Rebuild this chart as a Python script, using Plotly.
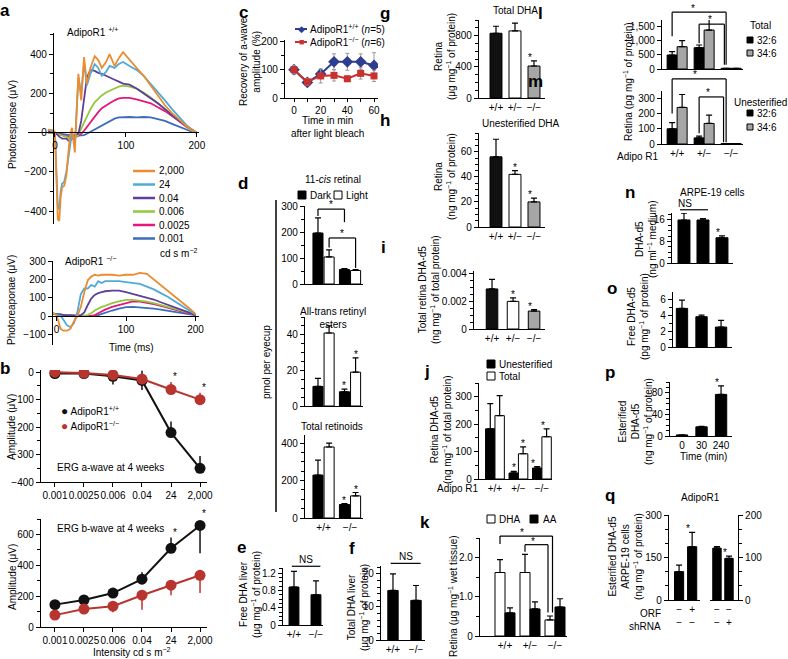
import plotly.graph_objects as go

W, H = 788, 659

# ---------------- data ----------------
# a: ERG photoresponse (uV) against time (ms), AdipoR1 +/+ and -/-
levels = ['2,000', '24', '0.04', '0.006', '0.0025', '0.001']
level_colors = ['#ED8B2F', '#4FAAD9', '#5E3F99', '#93C83E', '#E2187C', '#3D6CBA']

t_wt = [-10, -2, 0, 2, 4, 6, 8, 10, 13, 16, 19, 21, 24, 28, 33, 37, 41, 45, 50, 56,
        61, 66, 72, 77, 84, 90, 96, 105, 115, 125, 135, 145, 155, 165, 175, 185, 193, 200]
wt_2000 = [15, 12, 0, -250, -440, -450, -330, -280, -270, -220, -120, -20, 25, -100, 300, 165, 385, 250, 330, 390,
           370, 330, 360, 400, 340, 380, 410, 370, 330, 290, 240, 190, 140, 100, 65, 35, 15, 0]
wt_24 = [15, 10, 0, -200, -380, -390, -300, -260, -250, -200, -120, -60, 0, -60, 280, 200, 355, 240, 300, 350,
         330, 290, 310, 340, 330, 350, 360, 340, 320, 290, 250, 210, 165, 120, 80, 40, 15, 0]
wt_004 = [5, 3, 0, -5, -15, -20, -25, -30, -30, -30, -40, -40, -30, -10, -5, 60, 170, 280, 320, 315,
          305, 300, 290, 280, 270, 260, 250, 245, 225, 200, 175, 150, 120, 90, 60, 35, 15, 0]
wt_0006 = [0, 0, -2, -5, -8, -10, -12, -15, -18, -20, -25, -30, -30, -25, -10, 20, 50, 80, 120, 155,
           175, 190, 205, 215, 225, 235, 240, 235, 225, 205, 180, 150, 120, 90, 60, 30, 10, 0]
wt_00025 = [0, 0, -2, -4, -6, -8, -10, -12, -15, -18, -20, -22, -25, -25, -15, -5, 10, 30, 55, 85,
            105, 125, 140, 150, 165, 175, 178, 178, 170, 160, 150, 130, 110, 85, 60, 30, 12, 0]
wt_0001 = [0, 0, -2, -3, -4, -5, -6, -8, -10, -12, -14, -15, -16, -16, -15, -15, -12, -5, 5, 15,
           25, 35, 50, 60, 72, 78, 80, 80, 78, 80, 78, 70, 60, 45, 30, 15, 5, 0]

t_ko = [-10, -5, 0, 3, 6, 10, 15, 20, 25, 30, 35, 40, 45, 50, 55, 60, 65, 70, 80, 90,
        100, 110, 120, 130, 140, 150, 160, 170, 180, 190, 200]
ko_2000 = [20, 15, 5, -40, -70, -80, -80, -70, -30, 0, 50, 130, 195, 215, 225, 220, 225, 225, 225, 220,
           225, 225, 235, 230, 200, 170, 140, 110, 80, 45, 12]
ko_24 = [20, 15, 10, 5, 0, -20, -50, -60, -40, 20, 120, 150, 150, 170, 160, 190, 180, 190, 190, 190,
         185, 180, 175, 160, 145, 125, 105, 80, 55, 30, 8]
ko_004 = [15, 12, 10, 8, 6, 5, 4, 3, 2, 0, 5, 20, 60, 95, 115, 125, 130, 135, 138, 138,
          130, 120, 112, 100, 90, 75, 62, 48, 35, 20, 5]
ko_0006 = [15, 12, 10, 8, 6, 5, 4, 3, 2, 0, 0, 0, 5, 15, 30, 40, 50, 55, 70, 80,
           88, 88, 85, 78, 70, 60, 50, 40, 30, 18, 5]
ko_00025 = [15, 12, 10, 8, 6, 5, 4, 3, 2, 0, 0, 0, 0, 0, 5, 15, 25, 35, 50, 60,
            72, 80, 78, 72, 65, 55, 45, 35, 25, 15, 5]
ko_0001 = [15, 12, 10, 8, 6, 5, 4, 3, 2, 0, 0, 0, 0, 0, 0, 5, 12, 20, 30, 40,
           48, 50, 48, 45, 40, 35, 28, 22, 15, 10, 5]

# b: ERG amplitudes (uV) at 4 weeks
b_int = ['0.001', '0.0025', '0.006', '0.04', '24', '2,000']
awave_wt = [-5, -5, -15, -30, -220, -350]
awave_wt_up = [0, 0, 0, 35, 40, 45]
awave_wt_dn = [0, 0, 30, 35, 0, 0]
awave_ko = [0, -3, -10, -25, -63, -100]
awave_ko_up = [0, 0, 0, 0, 27, 25]
bwave_wt = [145, 175, 220, 310, 510, 658]
bwave_wt_up = [0, 0, 33, 45, 70, 0]
bwave_wt_dn = [0, 0, 0, 0, 0, 180]
bwave_ko = [77, 116, 135, 206, 271, 335]
bwave_ko_dn = [0, 0, 40, 95, 65, 115]

# c: recovery of a-wave amplitude (%)
c_time = [0, 10, 20, 30, 40, 50, 60]
c_wt = [100, 55, 85, 128, 128, 128, 115]
c_wt_err = [15, 12, 15, 28, 30, 28, 45]
c_ko = [100, 57, 78, 80, 68, 87, 78]
c_ko_err = [15, 12, 25, 20, 10, 20, 20]

# d: retinoids (pmol per eyecup)
d_geno = ['+/+', '−/−']
cis_dark, cis_dark_err = [196, 56], [58, 3]
cis_light, cis_light_err = [104, 52], [27, 3]
est_dark, est_dark_err = [11, 8], [4.5, 1.5]
est_light, est_light_err = [41, 19], [4, 8]
ret_dark, ret_dark_err = [229, 72], [80, 5]
ret_light, ret_light_err = [379, 118], [21, 18]

# e, f: liver DHA
e_vals, e_err = [0.88, 0.70], [0.36, 0.32]
f_vals, f_err = [15, 12], [5, 4.5]

# g-k: retina
geno3 = ['+/+', '+/−', '−/−']
g_vals, g_err = [830, 860, 410], [90, 100, 65]
h_vals, h_err = [56, 42, 20], [14, 3, 3]
i_vals, i_err = [0.0029, 0.002, 0.0013], [0.0007, 0.00025, 0.0001]
j_unest, j_unest_err = [183, 22, 40], [92, 6, 5]
j_total, j_total_err = [231, 92, 154], [73, 25, 29]
k_dha, k_dha_err = [1.62, 1.62, 0.41], [0.33, 0.46, 0.1]
k_aa, k_aa_err = [0.59, 0.69, 0.74], [0.13, 0.18, 0.21]

# l, m: 32:6 and 34:6 species
l_326, l_326_err = [490, 745, 25], [115, 95, 0]
l_346, l_346_err = [780, 1364, 25], [210, 480, 0]
m_326, m_326_err = [100, 40, 3], [40, 12, 0]
m_346, m_346_err = [240, 135, 3], [85, 55, 0]

# n-p: ARPE-19 cells
n_groups = ['n1', 'n2', 'n3']
n_vals, n_err = [16, 16, 9.4], [2.5, 0.5, 0.7]
o_groups = ['o1', 'o2', 'o3']
o_vals, o_err = [4.84, 3.8, 2.5], [1.05, 0.2, 0.85]
p_time = ['0', '30', '240']
p_vals, p_err = [2, 17, 77], [0, 1, 16]

# q: AdipoR1 ORF / shRNA
orf = ['−', '+', '−', '−']
shrna = ['−', '−', '−', '+']
q_orf_vals, q_orf_err = [100, 188], [23, 51]
q_sh_vals, q_sh_err = [122, 98], [3.5, 5]

# ---------------- helpers ----------------
fig = go.Figure()
lay = {}
notes = []
shapes = []
info = {}
count = [0]

AX = dict(showline=True, linecolor='black', linewidth=1.2, ticks='outside', ticklen=4,
          tickwidth=1.1, tickcolor='black', showgrid=False, zeroline=False, automargin=False,
          tickfont=dict(size=10, color='black'), fixedrange=True)


def mnr(d):
    return dict(dtick=d, ticks='outside', ticklen=2.5, tickwidth=1, tickcolor='black', showgrid=False)


def axes(x0, x1, y0, y1, xk=None, yk=None):
    count[0] += 1
    s = '' if count[0] == 1 else str(count[0])
    xa = dict(AX, domain=[x0 / W, x1 / W], anchor='y' + s)
    ya = dict(AX, domain=[1 - y1 / H, 1 - y0 / H], anchor='x' + s)
    xa.update(xk or {})
    ya.update(yk or {})
    lay['xaxis' + s] = xa
    lay['yaxis' + s] = ya
    info['x' + s] = (x0, x1, xa.get('range'))
    info['y' + s] = (y0, y1, ya.get('range'))
    return 'x' + s, 'y' + s


def to_px(xa, ya, x, y):
    x0, x1, (a, b) = info[xa]
    y0, y1, (c, d) = info[ya]
    return x0 + (x - a) / (b - a) * (x1 - x0), y1 - (y - c) / (d - c) * (y1 - y0)


def cat(r, labels=True):
    return dict(type='category', range=r, ticks='', showticklabels=labels)


def text(s, x, y, size=10, angle=0, xanchor='center', color='black'):
    notes.append(dict(text=s, x=x / W, y=1 - y / H, xref='paper', yref='paper', showarrow=False,
                      textangle=angle, xanchor=xanchor, yanchor='middle',
                      font=dict(size=size, color=color)))


def letter(s, x, y):
    text('<b>%s</b>' % s, x, y, size=17)


def star(xa, ya, x, y, s='*', shift=-4):
    # significance mark just above a data value; placed on the page so it is never hidden
    px, py = to_px(xa, ya, x, y)
    notes.append(dict(text=s, x=px / W, y=1 - py / H, xref='paper', yref='paper', showarrow=False,
                      yanchor='bottom', yshift=shift, font=dict(size=10, color='black')))


def pline(px0, py0, px1, py1, color='black', width=1.2):
    shapes.append(dict(type='line', xref='paper', yref='paper', x0=px0 / W, y0=1 - py0 / H,
                       x1=px1 / W, y1=1 - py1 / H, line=dict(color=color, width=width)))


def seg(xa, ya, x0, y0, x1, y1):
    a = to_px(xa, ya, x0, y0)
    b = to_px(xa, ya, x1, y1)
    pline(a[0], a[1], b[0], b[1])


def bracket(xa, ya, xl, xr, top, yl, yr):
    seg(xa, ya, xl, yl, xl, top)
    seg(xa, ya, xl, top, xr, top)
    seg(xa, ya, xr, top, xr, yr)


def swatch(x0, y0, x1, y1, color):
    shapes.append(dict(type='rect', xref='paper', yref='paper', x0=x0 / W, x1=x1 / W,
                       y0=1 - y1 / H, y1=1 - y0 / H, fillcolor=color, line=dict(color='black', width=1)))


def bars(xa, ya, cats, vals, errs, color, width, offset):
    fig.add_trace(go.Bar(x=cats, y=vals, xaxis=xa, yaxis=ya, width=width, offset=offset,
                         marker=dict(color=color, line=dict(color='black', width=1)),
                         error_y=dict(type='data', array=errs, arrayminus=[0] * len(errs), symmetric=False,
                                      color='black', thickness=1.2, width=3),
                         showlegend=False, cliponaxis=False))


# ---------------- a ----------------
letter('a', 5, 11)
xa, ya = axes(28, 199, 33, 224,
              dict(range=[-38, 203], anchor='free', position=1 - 132 / H, tickvals=[0, 100, 200]),
              dict(range=[-465, 508], anchor='free', position=53 / W,
                   tickvals=[-400, -200, 0, 200, 400], minor=mnr(100)))
wt_curves = [wt_2000, wt_24, wt_004, wt_0006, wt_00025, wt_0001]
for lvl, col, ys in reversed(list(zip(levels, level_colors, wt_curves))):
    fig.add_trace(go.Scatter(x=t_wt, y=ys, xaxis=xa, yaxis=ya, mode='lines', name=lvl,
                             line=dict(color=col, width=1.8), showlegend=False))
text('AdipoR1 <sup>+/+</sup>', 65, 32, xanchor='left')
text('Photoresponse (μV)', 12, 125, angle=-90)
for k, (lvl, col) in enumerate(zip(levels, level_colors)):
    yy = 171 + 13.5 * k
    pline(133, yy, 155, yy, color=col, width=2.5)
    text(lvl, 157, yy, xanchor='left')
text('cd s m<sup>−2</sup>', 158, 253, xanchor='left')

xa, ya = axes(53, 199, 261, 345,
              dict(range=[-5, 205], anchor='free', position=1 - 316 / H, tickvals=[0, 100, 200]),
              dict(range=[-158, 300], tickvals=[-100, 0, 100, 200, 300]))
ko_curves = [ko_2000, ko_24, ko_004, ko_0006, ko_00025, ko_0001]
for lvl, col, ys in reversed(list(zip(levels, level_colors, ko_curves))):
    fig.add_trace(go.Scatter(x=t_ko, y=ys, xaxis=xa, yaxis=ya, mode='lines', name=lvl,
                             line=dict(color=col, width=1.8), showlegend=False))
text('AdipoR1 <sup>−/−</sup>', 63, 261, xanchor='left')
text('Photoreaponae (μV)', 12, 300, angle=-90)
text('Time (ms)', 131, 347)

# ---------------- b ----------------
letter('b', 5, 368)
BLACK, RED = '#111111', '#B8342F'
xa, ya = axes(41, 207, 370, 482, dict(type='category', range=[-0.48, 5.24], tickangle=0),
              dict(range=[-400, 8], tickvals=[-400, -300, -200, -100, 0], minor=mnr(50)))
fig.add_trace(go.Scatter(x=b_int, y=awave_wt, xaxis=xa, yaxis=ya, mode='lines+markers',
                         line=dict(color=BLACK, width=2), marker=dict(color=BLACK, size=11),
                         error_y=dict(type='data', array=awave_wt_up, arrayminus=awave_wt_dn, symmetric=False,
                                      color=BLACK, thickness=1.5, width=0), showlegend=False))
fig.add_trace(go.Scatter(x=b_int, y=awave_ko, xaxis=xa, yaxis=ya, mode='lines+markers',
                         line=dict(color=RED, width=2), marker=dict(color=RED, size=11),
                         error_y=dict(type='data', array=awave_ko_up, arrayminus=[0] * 6, symmetric=False,
                                      color=RED, thickness=1.5, width=0), showlegend=False))
for i in (4, 5):
    star(xa, ya, i, awave_ko[i] + awave_ko_up[i], shift=-2)
text('<span style="color:%s;font-size:12px">●</span> AdipoR1<sup>+/+</sup>' % BLACK, 59, 411, xanchor='left')
text('<span style="color:%s;font-size:12px">●</span> AdipoR1<sup>−/−</sup>' % RED, 59, 426, xanchor='left')
text('ERG a-wave at 4 weeks', 110, 467)
text('Amplitude (μV)', 12, 427, angle=-90)

xa, ya = axes(41, 207, 519, 627, dict(type='category', range=[-0.48, 5.24], tickangle=0),
              dict(range=[0, 700], tickvals=[0, 200, 400, 600], minor=mnr(100)))
fig.add_trace(go.Scatter(x=b_int, y=bwave_wt, xaxis=xa, yaxis=ya, mode='lines+markers',
                         line=dict(color=BLACK, width=2), marker=dict(color=BLACK, size=11),
                         error_y=dict(type='data', array=bwave_wt_up, arrayminus=bwave_wt_dn, symmetric=False,
                                      color=BLACK, thickness=1.5, width=0), showlegend=False))
fig.add_trace(go.Scatter(x=b_int, y=bwave_ko, xaxis=xa, yaxis=ya, mode='lines+markers',
                         line=dict(color=RED, width=2), marker=dict(color=RED, size=11),
                         error_y=dict(type='data', array=[0] * 6, arrayminus=bwave_ko_dn, symmetric=False,
                                      color=RED, thickness=1.5, width=0), showlegend=False))
star(xa, ya, 4, bwave_wt[4] + bwave_wt_up[4], shift=-2)
star(xa, ya, 5, bwave_wt[5], shift=4)
text('ERG b-wave at 4 weeks', 110, 528)
text('Amplitude (μV)', 12, 577, angle=-90)
text('Intensity cd s m<sup>−2</sup>', 132, 652)

# ---------------- c ----------------
letter('c', 243, 13)
NAVY, CRED = '#2E3D8F', '#C8312E'
xa, ya = axes(285, 378, 40, 98, dict(range=[-6.75, 63], tickvals=[0, 20, 40, 60], minor=mnr(10), ticklen=3),
              dict(range=[0, 205], tickvals=[0, 100, 200], minor=mnr(50)))
fig.add_trace(go.Scatter(x=c_time, y=c_wt, xaxis=xa, yaxis=ya, mode='lines+markers',
                         line=dict(color=NAVY, width=2), marker=dict(color=NAVY, size=9, symbol='diamond'),
                         error_y=dict(type='data', array=c_wt_err, color='#999999', thickness=1, width=2),
                         showlegend=False))
fig.add_trace(go.Scatter(x=c_time, y=c_ko, xaxis=xa, yaxis=ya, mode='lines+markers',
                         line=dict(color=CRED, width=2), marker=dict(color=CRED, size=7, symbol='square'),
                         error_y=dict(type='data', array=c_ko_err, color='#999999', thickness=1, width=2),
                         showlegend=False))
for yy, col, sym, lab in [(29, NAVY, '◆', 'AdipoR1<sup>+/+</sup> (<i>n</i>=5)'),
                          (42, CRED, '■', 'AdipoR1<sup>−/−</sup> (<i>n</i>=6)')]:
    pline(295, yy, 307, yy, color=col, width=2)
    text(sym, 301, yy, size=9, color=col)
    text(lab, 308, yy, xanchor='left')
text('Recovery of a-wave<br>amplitude (%)', 250, 62, angle=-90)
text('Time in min<br>after light bleach', 327, 127)

# ---------------- d ----------------
letter('d', 243, 183)
text('11-<i>cis</i> retinal', 333, 180)
swatch(298, 191, 306, 199, 'black')
text('Dark', 308, 195, xanchor='left')
swatch(334, 191, 342, 199, 'white')
text('Light', 344, 195, xanchor='left')
DW = 0.38
xa, ya = axes(305, 363, 206, 284, cat([-0.70, 1.49], False),
              dict(range=[0, 300], tickvals=[0, 100, 200, 300], minor=mnr(50)))
bars(xa, ya, d_geno, cis_dark, cis_dark_err, 'black', DW, -DW - 0.02)
bars(xa, ya, d_geno, cis_light, cis_light_err, 'white', DW, 0.02)
bracket(xa, ya, -0.21, 0.79, 288, 262, 238)
star(xa, ya, 0.29, 288, shift=-3)
bracket(xa, ya, 0.21, 1.21, 177, 140, 62)
star(xa, ya, 0.71, 177, shift=-3)

text('All-trans retinyl<br>esters', 333, 318)
xa, ya = axes(305, 363, 317, 406, cat([-0.70, 1.49], False),
              dict(range=[0, 50], tickvals=[0, 20, 40], minor=mnr(5)))
bars(xa, ya, d_geno, est_dark, est_dark_err, 'black', DW, -DW - 0.02)
bars(xa, ya, d_geno, est_light, est_light_err, 'white', DW, 0.02)
star(xa, ya, 0.79, est_dark[1] + est_dark_err[1])
star(xa, ya, 1.21, est_light[1] + est_light_err[1])

text('Total retinoids', 332, 427)
xa, ya = axes(305, 363, 435, 518, cat([-0.70, 1.49]),
              dict(range=[0, 443], tickvals=[0, 200, 400], minor=mnr(50)))
bars(xa, ya, d_geno, ret_dark, ret_dark_err, 'black', DW, -DW - 0.02)
bars(xa, ya, d_geno, ret_light, ret_light_err, 'white', DW, 0.02)
star(xa, ya, 0.79, ret_dark[1] + ret_dark_err[1])
star(xa, ya, 1.21, ret_light[1] + ret_light_err[1])
pline(276, 200, 276, 512, width=1.5)
text('pmol per eyecup', 267, 362, angle=-90)

# ---------------- e, f ----------------
letter('e', 242, 547)
xa, ya = axes(283, 323, 568, 625, cat([-0.5, 1.32]),
              dict(range=[0, 1.32], tickvals=[0, 0.4, 0.8, 1.2], ticktext=['0', '0.4', '0.8', '1.2'],
                   minor=mnr(0.1)))
bars(xa, ya, d_geno, e_vals, e_err, 'black', 0.45, -0.225)
seg(xa, ya, -0.1, 1.36, 1.2, 1.36)
star(xa, ya, 0.55, 1.36, 'NS', shift=-1)
text('Free DHA liver<br>(μg mg<sup>−1</sup> of protein)', 250, 595, angle=-90)

letter('f', 352, 548)
xa, ya = axes(381, 425, 566, 640, cat([-0.52, 1.39]),
              dict(range=[0, 22.4], tickvals=[0, 10, 20], minor=mnr(2)))
bars(xa, ya, d_geno, f_vals, f_err, 'black', 0.45, -0.225)
seg(xa, ya, -0.1, 23.2, 1.2, 23.2)
star(xa, ya, 0.55, 23.2, 'NS', shift=-1)
text('Total DHA liver<br>(μg mg<sup>−1</sup> of protein)', 358, 608, angle=-90)

# ---------------- g, h, i ----------------
COLS3 = ['#111111', 'white', '#A6A6A6']
letter('g', 385, 14)
text('Total DHA', 515, 11)
xa, ya = axes(479, 545, 20, 98, cat([-0.895, 2.58]),
              dict(range=[0, 1000], tickvals=[0, 400, 800], minor=mnr(100)))
bars(xa, ya, geno3, g_vals, g_err, COLS3, 0.63, -0.315)
star(xa, ya, 2, g_vals[2] + g_err[2])
text('Retina<br>(μg mg<sup>−1</sup> of protein)', 445, 57, angle=-90)

letter('h', 385, 120)
text('Unesterified DHA', 521, 123)
xa, ya = axes(479, 545, 133, 227, cat([-0.895, 2.58]),
              dict(range=[0, 75], tickvals=[0, 20, 40, 60], minor=mnr(5)))
bars(xa, ya, geno3, h_vals, h_err, COLS3, 0.63, -0.315)
for i in (1, 2):
    star(xa, ya, i, h_vals[i] + h_err[i])
text('Retina<br>(ng mg<sup>−1</sup> of protein)', 445, 177, angle=-90)

letter('i', 383, 247)
xa, ya = axes(474, 545, 271, 329, cat([-0.857, 2.52]),
              dict(range=[0, 0.0042], tickvals=[0, 0.002, 0.004], ticktext=['0', '0.002', '0.004'],
                   minor=mnr(0.0005)))
bars(xa, ya, geno3, i_vals, i_err, COLS3, 0.55, -0.275)
for i in (1, 2):
    star(xa, ya, i, i_vals[i] + i_err[i])
text('Total retina DHA-d5<br>(ng mg<sup>−1</sup> of total protein)', 429, 290, angle=-90)

# ---------------- j ----------------
letter('j', 427, 371)
swatch(487, 360, 495, 368, 'black')
text('Unesterified', 497, 364, xanchor='left')
swatch(487, 372, 495, 380, 'white')
text('Total', 497, 376, xanchor='left')
xa, ya = axes(479, 552, 383, 479, cat([-0.68, 2.43]),
              dict(range=[0, 350], tickvals=[0, 100, 200, 300], minor=mnr(50)))
bars(xa, ya, geno3, j_unest, j_unest_err, 'black', 0.40, -0.40)
bars(xa, ya, geno3, j_total, j_total_err, 'white', 0.40, 0.0)
for i in (1, 2):
    star(xa, ya, i - 0.2, j_unest[i] + j_unest_err[i])
    star(xa, ya, i + 0.2, j_total[i] + j_total_err[i])
text('Retina DHA-d5<br>(ng mg<sup>−1</sup> of total protein)', 441, 430, angle=-90)
text('Adipo R1', 458, 489)

# ---------------- k ----------------
letter('k', 425, 522)
swatch(487, 515, 495, 523, 'white')
text('DHA', 497, 519, xanchor='left')
swatch(530, 515, 538, 523, 'black')
text('AA', 541, 519, xanchor='left')
xa, ya = axes(480, 567, 538, 636, cat([-1.0, 2.48]),
              dict(range=[0, 2.5], tickvals=[0, 1, 2], ticktext=['0', '1.0', '2.0'], minor=mnr(0.5)))
bars(xa, ya, geno3, k_dha, k_dha_err, 'white', 0.40, -0.40)
bars(xa, ya, geno3, k_aa, k_aa_err, 'black', 0.40, 0.0)
bracket(xa, ya, -0.2, 1.9, 2.55, 2.35, 0.6)
star(xa, ya, 0.85, 2.55, shift=-4)
bracket(xa, ya, 0.8, 1.72, 2.33, 2.15, 0.6)
star(xa, ya, 1.26, 2.33, shift=-4)
text('Retina (μg mg<sup>−1</sup> wet tissue)', 453, 596, angle=-90)

# ---------------- l, m ----------------
GREY = '#A6A6A6'
letter('l', 540, 14)
xa, ya = axes(662, 743, 20, 69, cat([-0.56, 2.44], False),
              dict(range=[0, 1715], tickvals=[0, 500, 1000, 1500], tickformat=','))
bars(xa, ya, geno3, l_326, l_326_err, 'black', 0.37, -0.37)
bars(xa, ya, geno3, l_346, l_346_err, GREY, 0.37, 0.0)
bracket(xa, ya, -0.185, 1.815, 1990, 1150, 150)
star(xa, ya, 0.75, 1990, shift=-4)
bracket(xa, ya, 0.815, 1.75, 1570, 900, 150)
star(xa, ya, 1.35, 1570, shift=-3)
text('Total', 760, 26)
swatch(747, 37, 753, 43, 'black')
text('32:6', 755, 40, xanchor='left')
swatch(747, 50, 753, 56, GREY)
text('34:6', 755, 53, xanchor='left')

letter('m', 535, 82)
xa, ya = axes(662, 743, 91, 144, cat([-0.56, 2.44]),
              dict(range=[0, 348], tickvals=[0, 100, 200, 300]))
bars(xa, ya, geno3, m_326, m_326_err, 'black', 0.37, -0.37)
bars(xa, ya, geno3, m_346, m_346_err, GREY, 0.37, 0.0)
bracket(xa, ya, -0.185, 1.815, 427, 200, 12)
star(xa, ya, 0.8, 427, shift=-3)
bracket(xa, ya, 0.815, 1.72, 309, 70, 12)
star(xa, ya, 1.3, 309, shift=-3)
text('Unesterified', 760, 102)
swatch(747, 110, 753, 116, 'black')
text('32:6', 755, 113, xanchor='left')
swatch(747, 124, 753, 130, GREY)
text('34:6', 755, 127, xanchor='left')
text('Retina (pg mg<sup>−1</sup> of protein)', 628, 82, angle=-90)
text('Adipo R1', 638, 157)

# ---------------- n, o, p ----------------
letter('n', 630, 192)
text('ARPE-19 cells', 712, 192)
xa, ya = axes(672, 733, 213, 263, cat([-0.63, 2.58], False),
              dict(range=[0, 18.6], tickvals=[0, 8, 16], minor=mnr(2)))
bars(xa, ya, n_groups, n_vals, n_err, 'black', 0.63, -0.315)
star(xa, ya, 2, n_vals[2] + n_err[2])
seg(xa, ya, -0.21, 19.8, 1.26, 19.8)
star(xa, ya, 0.52, 19.8, 'NS', shift=-1)
text('DHA-d5<br>(ng ml<sup>−1</sup> medium)', 646, 240, angle=-90)

letter('o', 612, 288)
xa, ya = axes(673, 732, 292, 347, cat([-0.46, 2.56], False),
              dict(range=[0, 6.9], tickvals=[0, 2, 4, 6], minor=mnr(1)))
bars(xa, ya, o_groups, o_vals, o_err, 'black', 0.58, -0.29)
text('Free DHA-d5<br>(pg mg<sup>−1</sup> of protein)', 638, 317, angle=-90)

letter('p', 610, 372)
xa, ya = axes(670, 732, 382, 436, cat([-0.615, 2.56]),
              dict(range=[0, 100], tickvals=[0, 40, 80], minor=mnr(10)))
bars(xa, ya, p_time, p_vals, p_err, 'black', 0.58, -0.29)
star(xa, ya, 2, p_vals[2] + p_err[2])
text('Time (min)', 703, 456)
text('Esterified<br>DHA-d5<br>(ng mg<sup>−1</sup> of protein)', 636, 422, angle=-90)

# ---------------- q ----------------
letter('q', 610, 495)
text('AdipoR1', 700, 497)
q_ticks = ['%s<br>%s' % (o, s) for o, s in zip(orf, shrna)]
q_cats = ['c%d' % k for k in range(4)]
xa, ya = axes(669, 700, 515, 600, dict(cat([-0.77, 1.6]), tickvals=q_cats[:2], ticktext=q_ticks[:2]),
              dict(range=[0, 300], tickvals=[0, 150, 300], minor=mnr(50)))
bars(xa, ya, q_cats[:2], q_orf_vals, q_orf_err, 'black', 0.7, -0.35)
star(xa, ya, 1, q_orf_vals[1] + q_orf_err[1])
xa, ya = axes(710, 738, 515, 600, dict(cat([-0.58, 1.75]), tickvals=q_cats[2:], ticktext=q_ticks[2:]),
              dict(range=[0, 200], side='right', tickvals=[0, 100, 200], minor=mnr(200 / 6)))
bars(xa, ya, q_cats[2:], q_sh_vals, q_sh_err, 'black', 0.7, -0.35)
star(xa, ya, 1, q_sh_vals[1] + q_sh_err[1])
text('ORF', 663, 613, xanchor='right')
text('shRNA', 663, 626, xanchor='right')
text('Esterified DHA-d5<br>ARPE-19 cells<br>(ng mg<sup>−1</sup> of protein)', 625, 557, angle=-90)

fig.update_layout(width=W, height=H, margin=dict(l=0, r=0, t=0, b=0, autoexpand=False),
                  paper_bgcolor='white', plot_bgcolor='rgba(0,0,0,0)',
                  font=dict(family='Liberation Sans, Arial, sans-serif', size=10, color='black'),
                  showlegend=False, annotations=notes, shapes=shapes, **lay)

fig.write_html("out.html", config={'displayModeBar': False},
               post_script="document.body.style.margin='0';")
